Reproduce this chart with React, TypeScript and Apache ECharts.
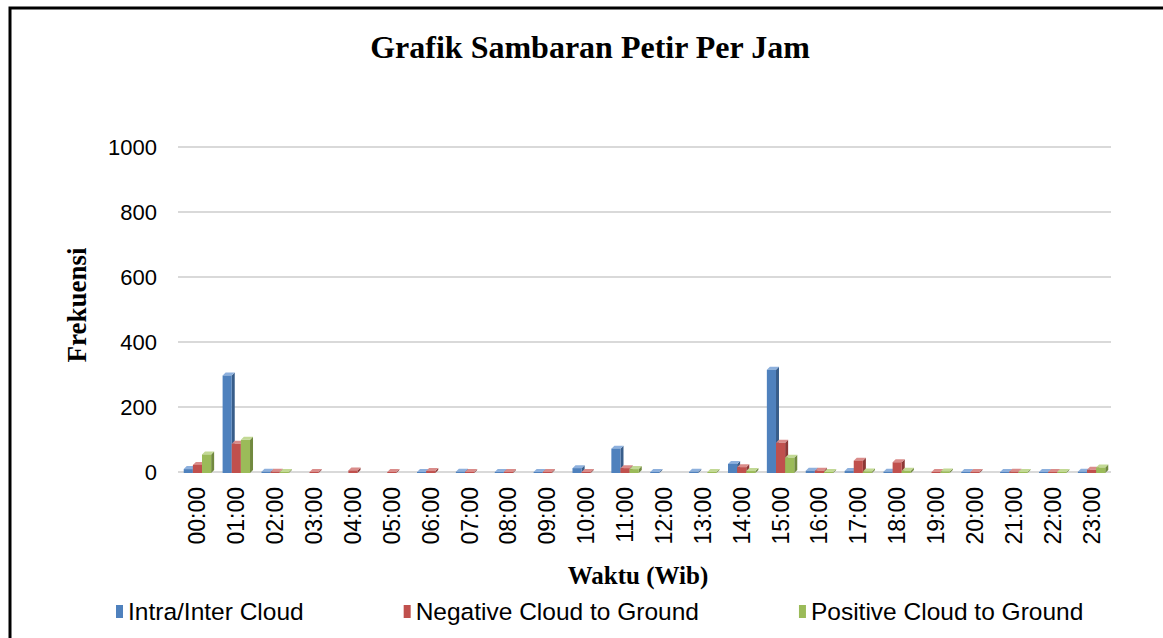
import React, { useEffect, useRef } from "react";
import * as echarts from "echarts";

const hours = ["00:00","01:00","02:00","03:00","04:00","05:00","06:00","07:00","08:00","09:00","10:00","11:00","12:00","13:00","14:00","15:00","16:00","17:00","18:00","19:00","20:00","21:00","22:00","23:00"];
const intraCloud = [12, 300, 4, 0, 0, 0, 2, 4, 2, 3, 15, 75, 2, 4, 28, 318, 7, 6, 4, 0, 3, 2, 3, 4];
const negativeCG = [25, 90, 4, 2, 8, 2, 6, 2, 2, 2, 2, 15, 0, 0, 18, 93, 7, 38, 33, 2, 3, 4, 2, 10];
const positiveCG = [57, 102, 2, 0, 0, 0, 0, 0, 0, 0, 0, 12, 0, 2, 6, 47, 3, 5, 7, 5, 0, 2, 2, 17];
const seriesNames = ["Intra/Inter Cloud", "Negative Cloud to Ground", "Positive Cloud to Ground"];
const yTicks = [0, 200, 400, 600, 800, 1000];

const palette = [
  { front: "#4F81BD", side: "#385D8A", top: "#8DB0DD" },
  { front: "#C0504D", side: "#8C3836", top: "#DA8C8A" },
  { front: "#9BBB59", side: "#71893F", top: "#C2D994" },
];

function makeSeries(name: string, values: number[], k: number) {
  const c = palette[k];
  return {
    name,
    type: "custom",
    itemStyle: { color: c.front },
    data: values.map((v, i) => [i, v]),
    renderItem: (params: any, api: any) => {
      const cat = api.value(0);
      const val = api.value(1);
      if (!val) return null;
      const base = api.coord([cat, 0]);
      const top = api.coord([cat, val]);
      const cw = api.size([1, 0])[0];
      const bw = cw * 0.235;
      const x = base[0] + (k - 1) * bw - bw / 2;
      const d = 3;
      const yb = base[1] + 1;
      const yt = Math.min(top[1] + 1, yb - 1);
      return {
        type: "group",
        children: [
          {
            type: "polygon",
            shape: { points: [[x + bw, yt], [x + bw + d, yt - d], [x + bw + d, yb - d], [x + bw, yb]] },
            style: { fill: c.side },
          },
          {
            type: "polygon",
            shape: { points: [[x, yt], [x + d, yt - d], [x + bw + d, yt - d], [x + bw, yt]] },
            style: { fill: c.top },
          },
          {
            type: "rect",
            shape: { x, y: yt, width: bw, height: yb - yt },
            style: { fill: c.front },
          },
        ],
      };
    },
  };
}

export default function App() {
  const ref = useRef<HTMLDivElement>(null);
  useEffect(() => {
    if (!ref.current) return;
    const chart = echarts.init(ref.current, null, { renderer: "svg" });
    chart.setOption({
      animation: false,
      backgroundColor: "#ffffff",
      grid: { left: 178, right: 52, top: 147, bottom: 166, containLabel: false },
      xAxis: {
        type: "category",
        data: hours,
        axisLine: { show: false },
        axisTick: { show: false },
        axisLabel: {
          rotate: 90,
          margin: 15,
          fontSize: 23,
          color: "#000",
          fontFamily: "Liberation Sans, Arial, sans-serif",
        },
      },
      yAxis: {
        type: "value",
        min: yTicks[0],
        max: yTicks[yTicks.length - 1],
        interval: 200,
        axisLine: { show: false },
        axisTick: { show: false },
        axisLabel: {
          margin: 21,
          fontSize: 22,
          color: "#000",
          fontFamily: "Liberation Sans, Arial, sans-serif",
          formatter: (v: number) => String(v),
        },
        splitLine: { lineStyle: { color: "#D9D9D9", width: 2 } },
      },
      legend: {
        left: 111,
        top: 594,
        itemGap: 100,
        itemWidth: 7,
        itemHeight: 13,
        icon: "rect",
        textStyle: {
          fontSize: 24.5,
          color: "#000",
          fontFamily: "Liberation Sans, Arial, sans-serif",
          padding: [0, 0, 0, 0],
        },
        data: seriesNames,
      },
      series: [
        makeSeries(seriesNames[0], intraCloud, 0),
        makeSeries(seriesNames[1], negativeCG, 1),
        makeSeries(seriesNames[2], positiveCG, 2),
      ],
      graphic: [
        {
          type: "rect",
          shape: { x: 10, y: 8, width: 1400, height: 900 },
          style: { fill: "none", stroke: "#000", lineWidth: 3 },
          silent: true,
        },
        {
          type: "text",
          x: 590,
          y: 47,
          style: {
            text: "Grafik Sambaran Petir Per Jam",
            fontFamily: "Liberation Serif, Times New Roman, serif",
            fontWeight: "bold",
            fontSize: 32,
            fill: "#000",
            align: "center",
            verticalAlign: "middle",
          },
        },
        {
          type: "text",
          x: 77,
          y: 305,
          rotation: Math.PI / 2,
          style: {
            text: "Frekuensi",
            fontFamily: "Liberation Serif, Times New Roman, serif",
            fontWeight: "bold",
            fontSize: 27,
            fill: "#000",
            align: "center",
            verticalAlign: "middle",
          },
        },
        {
          type: "text",
          x: 638,
          y: 575,
          style: {
            text: "Waktu (Wib)",
            fontFamily: "Liberation Serif, Times New Roman, serif",
            fontWeight: "bold",
            fontSize: 25,
            fill: "#000",
            align: "center",
            verticalAlign: "middle",
          },
        },
      ],
    });
    return () => chart.dispose();
  }, []);
  return (
    <div
      ref={ref}
      style={{ position: "fixed", left: 0, top: 0, width: 1163, height: 638, background: "#fff" }}
    />
  );
}
